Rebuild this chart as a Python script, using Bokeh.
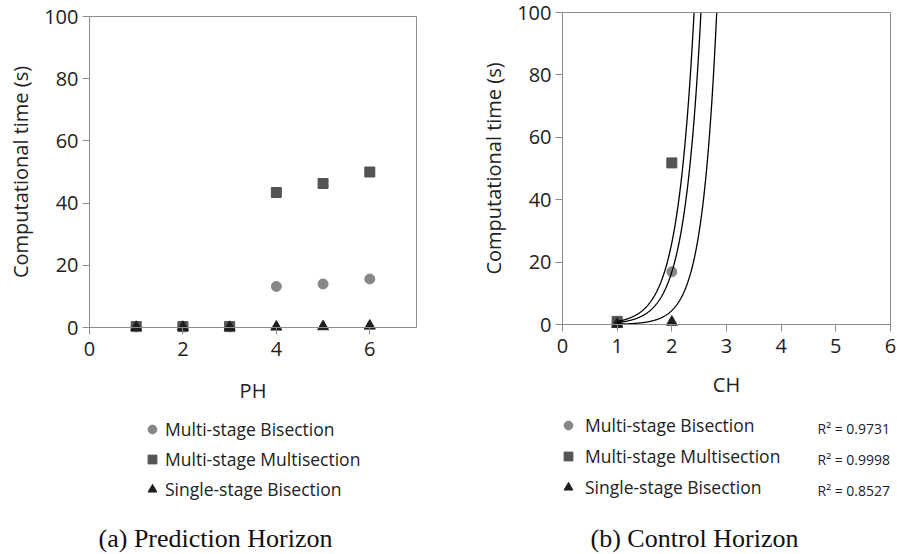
import numpy as np
from bokeh.plotting import figure
from bokeh.models import Range1d, FixedTicker, LinearAxis, Legend, LegendItem, Label
from bokeh.layouts import row
from bokeh.embed import file_html
from bokeh.resources import INLINE

# ---------------- data ----------------
series_names = ["Multi-stage Bisection", "Multi-stage Multisection", "Single-stage Bisection"]

ph = [1, 2, 3, 4, 5, 6]
ph_ms_bisection = [0.2, 0.2, 0.2, 13.2, 14.0, 15.6]
ph_ms_multisection = [0.3, 0.3, 0.3, 43.4, 46.3, 50.0]
ph_ss_bisection = [0.1, 0.1, 0.1, 0.2, 0.3, 0.5]

ch = [1, 2]
ch_ms_bisection = [0.5, 16.9]
ch_ms_multisection = [1.0, 51.8]
ch_ss_bisection = [0.1, 0.8]

# exponential trendlines y = a * exp(b * x) (Bisection, Multisection, Single-stage)
trend_a = [0.0212, 0.0364, 0.00234]
trend_b = [3.34, 3.29, 3.78]
trend_x_start = 1
r_squared = ["R\u00b2 = 0.9731", "R\u00b2 = 0.9998", "R\u00b2 = 0.8527"]

y_max = 100
y_ticks = [0, 20, 40, 60, 80, 100]
ph_max = 7
ph_ticks = [0, 2, 4, 6]
ch_max = 6
ch_ticks = [0, 1, 2, 3, 4, 5, 6]

captions = ["(a) Prediction Horizon", "(b) Control Horizon"]

# ---------------- style ----------------
AXIS_COLOR = "#8c8c8c"
TEXT_COLOR = "#222222"
marker_types = ["circle", "square", "triangle"]
marker_colors = ["#878787", "#545454", "#1e1e1e"]
marker_sizes = [10, 10, 11]
SANS = "Open Sans"
SERIF = "Liberation Serif"
CANVAS_H = 554


def style_axis(ax):
    ax.axis_line_color = AXIS_COLOR
    ax.major_tick_line_color = AXIS_COLOR
    ax.major_tick_out = 7
    ax.major_tick_in = 0
    ax.minor_tick_line_color = None
    ax.major_label_text_font = SANS
    ax.major_label_text_font_size = "20px"
    ax.major_label_text_color = TEXT_COLOR
    ax.axis_label_text_font = SANS
    ax.axis_label_text_font_size = "20px"
    ax.axis_label_text_font_style = "normal"
    ax.axis_label_text_color = TEXT_COLOR


def border_axis(loc, bounds):
    ax = LinearAxis(ticker=FixedTicker(ticks=[]), fixed_location=loc, bounds=bounds)
    ax.axis_line_color = AXIS_COLOR
    ax.major_tick_line_color = None
    ax.minor_tick_line_color = None
    ax.major_tick_out = 0
    ax.major_label_standoff = 0
    ax.major_label_text_font_size = "0px"
    return ax


def make_panel(x_max, x_ticks, x_label, xs, ys_list, fig_w, x0_px, x_px_per_unit,
               top_px, zero_px, legend_xy, legend_spacing, standoff, xlabel_standoff):
    # the frame covers the whole figure; axes are pinned at x=0 / y=0
    y_px_per_unit = (zero_px - top_px) / float(y_max)
    x_range = Range1d(-x0_px / x_px_per_unit, (fig_w - x0_px) / x_px_per_unit)
    y_range = Range1d(-(CANVAS_H - zero_px) / y_px_per_unit, y_max + top_px / y_px_per_unit)
    p = figure(frame_width=fig_w, frame_height=CANVAS_H, min_border=0,
               x_range=x_range, y_range=y_range,
               output_backend="svg", toolbar_location=None)
    p.xgrid.visible = False
    p.ygrid.visible = False
    p.outline_line_color = None
    p.background_fill_color = "white"
    p.border_fill_color = "white"

    xa, ya = p.xaxis[0], p.yaxis[0]
    style_axis(xa)
    style_axis(ya)
    xa.ticker = FixedTicker(ticks=x_ticks)
    xa.fixed_location = 0
    xa.bounds = (0, x_max)
    xa.axis_label = x_label
    xa.major_label_standoff = 7
    xa.axis_label_standoff = xlabel_standoff
    ya.ticker = FixedTicker(ticks=y_ticks)
    ya.fixed_location = 0
    ya.bounds = (0, y_max)
    ya.axis_label = "Computational time (s)"
    ya.major_label_standoff = 4
    ya.axis_label_standoff = 7

    p.add_layout(border_axis(x_max, (0, y_max)), "right")
    p.add_layout(border_axis(y_max, (0, x_max)), "above")

    items = []
    for name, ys, mk, col, sz in zip(series_names, ys_list, marker_types, marker_colors, marker_sizes):
        r = p.scatter(xs, ys, marker=mk, size=sz, fill_color=col, line_color=col)
        items.append(LegendItem(label=name, renderers=[r]))

    legend = Legend(items=items, location=legend_xy, orientation="vertical")
    legend.label_text_font = SANS
    legend.label_text_font_size = "17.5px"
    legend.label_text_color = TEXT_COLOR
    legend.glyph_width = 22
    legend.glyph_height = 24
    legend.label_height = 24
    legend.spacing = legend_spacing
    legend.label_standoff = standoff
    legend.padding = 0
    legend.margin = 0
    legend.border_line_color = None
    legend.background_fill_alpha = 0
    p.add_layout(legend)
    return p


left = make_panel(ph_max, ph_ticks, "PH", ph,
                  [ph_ms_bisection, ph_ms_multisection, ph_ss_bisection],
                  448, 89, 327 / 7.0, 16, 327, (141, 53), 6, 2, 18)
right = make_panel(ch_max, ch_ticks, "CH", ch,
                   [ch_ms_bisection, ch_ms_multisection, ch_ss_bisection],
                   449, 114, 328 / 6.0, 12, 324, (109, 55), 7, 6, 15)

# exponential trendlines on the CH panel, drawn up to the top of the plot area
for a, b in zip(trend_a, trend_b):
    x_end = np.log(y_max / a) / b
    x_fit = np.linspace(trend_x_start, x_end, 300)
    right.line(x_fit, a * np.exp(b * x_fit), line_color="black", line_width=1.3)

# R² values (screen offsets from the figure's bottom-left corner)
for i, txt in enumerate(r_squared):
    right.add_layout(Label(x=369, y=126 - 31 * i, x_units="screen", y_units="screen",
                           text=txt, text_font=SANS, text_font_size="14px",
                           text_color=TEXT_COLOR, text_baseline="middle", text_align="left"))

# captions
left.add_layout(Label(x=215, y=16, x_units="screen", y_units="screen", text=captions[0],
                      text_font=SERIF, text_font_size="26px", text_color="#111111",
                      text_baseline="middle", text_align="center"))
right.add_layout(Label(x=246, y=16, x_units="screen", y_units="screen", text=captions[1],
                       text_font=SERIF, text_font_size="26px", text_color="#111111",
                       text_baseline="middle", text_align="center"))

layout = row(left, right, spacing=0)
open("out.html", "w").write(file_html(layout, INLINE))
